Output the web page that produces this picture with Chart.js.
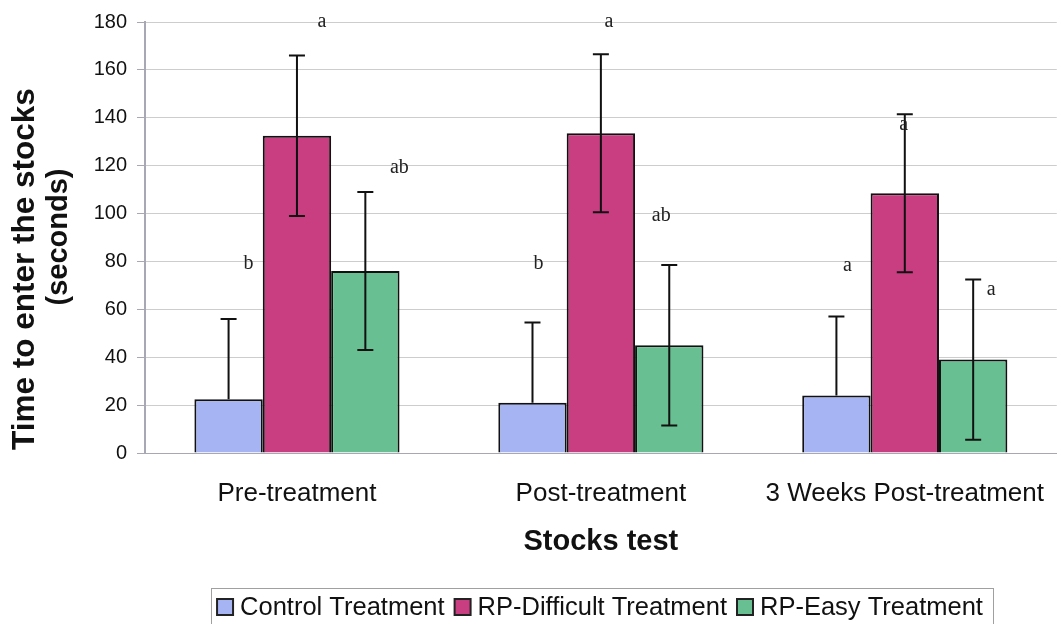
<!DOCTYPE html>
<html>
<head>
<meta charset="utf-8">
<script src="https://cdn.jsdelivr.net/npm/chart.js@4"></script>
<style>
  html, body { margin: 0; padding: 0; background: #fff; }
  #wrap { width: 1061px; height: 624px; }
</style>
</head>
<body>
<div id="wrap"><canvas id="stocksChart" width="1061" height="624"></canvas></div>
<script>
var categories = ['Pre-treatment', 'Post-treatment', '3 Weeks Post-treatment'];
var seriesNames = ['Control Treatment', 'RP-Difficult Treatment', 'RP-Easy Treatment'];

var controlMeans = [22.5, 21, 24];
var difficultMeans = [132.5, 133.5, 108.5];
var easyMeans = [76, 45, 39];

var controlSD = [33.5, 33.5, 33];
var difficultSD = [33.5, 33, 33];
var easySD = [33, 33.5, 33.5];

// significance letters and the value they sit at
var controlLetters = ['b', 'b', 'a'];
var difficultLetters = ['a', 'a', 'a'];
var easyLetters = ['ab', 'ab', 'a'];
var controlLetterAt = [79, 79, 78];
var difficultLetterAt = [180, 180, 137];
var easyLetterAt = [119, 99, 68];

var yTicks = [0, 20, 40, 60, 80, 100, 120, 140, 160, 180];
var yTitle = ['Time to enter the stocks', '(seconds)'];

var sans = '"Liberation Sans", Arial, sans-serif';

// small sideways nudges (px) for letters, per series / category
var letterNudge = [[20, 6, 11], [25, 8, -1], [34, -8, 18]];

var errorBars = {
  id: 'errorBars',
  afterDatasetsDraw: function(chart) {
    var ctx = chart.ctx, y = chart.scales.y;
    var sds = [controlSD, difficultSD, easySD];
    ctx.save();
    ctx.strokeStyle = '#111';
    ctx.lineWidth = 2;
    chart.data.datasets.forEach(function(ds, i) {
      var meta = chart.getDatasetMeta(i);
      meta.data.forEach(function(bar, j) {
        var v = ds.data[j], e = sds[i][j];
        var top = y.getPixelForValue(v + e);
        // control bars only show the upper half
        var bot = i === 0 ? y.getPixelForValue(v) : y.getPixelForValue(v - e);
        ctx.beginPath();
        ctx.moveTo(bar.x, top); ctx.lineTo(bar.x, bot);
        ctx.moveTo(bar.x - 8, top); ctx.lineTo(bar.x + 8, top);
        if (i !== 0) { ctx.moveTo(bar.x - 8, bot); ctx.lineTo(bar.x + 8, bot); }
        ctx.stroke();
      });
    });
    ctx.restore();
  }
};

var extras = {
  id: 'extras',
  afterDraw: function(chart) {
    var ctx = chart.ctx, y = chart.scales.y;
    var letters = [controlLetters, difficultLetters, easyLetters];
    var at = [controlLetterAt, difficultLetterAt, easyLetterAt];
    ctx.save();
    ctx.fillStyle = '#222';
    ctx.font = '20px "Liberation Serif", "Times New Roman", serif';
    ctx.textAlign = 'center';
    ctx.textBaseline = 'middle';
    letters.forEach(function(list, i) {
      var meta = chart.getDatasetMeta(i);
      list.forEach(function(t, j) {
        ctx.fillText(t, meta.data[j].x + letterNudge[i][j], y.getPixelForValue(at[i][j]));
      });
    });

    // y axis title, two rotated lines
    ctx.fillStyle = '#111';
    ctx.save();
    ctx.font = 'bold 31.5px ' + sans;
    ctx.translate(25, 269);
    ctx.rotate(-Math.PI / 2);
    ctx.fillText(yTitle[0], 0, 0);
    ctx.restore();
    ctx.save();
    ctx.font = 'bold 29px ' + sans;
    ctx.translate(59, 237);
    ctx.rotate(-Math.PI / 2);
    ctx.fillText(yTitle[1], 0, 0);
    ctx.restore();

    // legend with a frame
    ctx.font = '25.5px ' + sans;
    ctx.textAlign = 'left';
    var box = 16, gap = 7, sep = 10;
    var widths = seriesNames.map(function(n) { return ctx.measureText(n).width; });
    var total = widths.reduce(function(a, b) { return a + b; }, 0) + seriesNames.length * (box + gap) + (seriesNames.length - 1) * sep;
    var x = 600 - total / 2, cy = 607;
    ctx.strokeStyle = '#a0a0a0';
    ctx.lineWidth = 1;
    ctx.strokeRect(Math.round(x - 6) + 0.5, 588.5, Math.round(total + 16), 40);
    chart.data.datasets.forEach(function(ds, i) {
      ctx.fillStyle = ds.backgroundColor;
      ctx.fillRect(x, cy - box / 2, box, box);
      ctx.strokeStyle = '#222';
      ctx.lineWidth = 2;
      ctx.strokeRect(x, cy - box / 2, box, box);
      ctx.fillStyle = '#111';
      ctx.fillText(seriesNames[i], x + box + gap, cy + 1);
      x += box + gap + widths[i] + sep;
    });
    ctx.restore();
  }
};

new Chart(document.getElementById('stocksChart'), {
  type: 'bar',
  data: {
    labels: categories,
    datasets: [
      { label: seriesNames[0], data: controlMeans, backgroundColor: 'rgb(166,180,244)' },
      { label: seriesNames[1], data: difficultMeans, backgroundColor: 'rgb(200,62,128)' },
      { label: seriesNames[2], data: easyMeans, backgroundColor: 'rgb(104,192,146)' }
    ].map(function(d) {
      d.borderColor = '#111';
      d.borderWidth = 2;
      d.categoryPercentage = 0.675;
      d.barPercentage = 1;
      return d;
    })
  },
  options: {
    responsive: false,
    animation: false,
    layout: { padding: { top: 22, right: 0, left: 0, bottom: 0 } },
    plugins: {
      tooltip: { enabled: false },
      legend: { display: false }
    },
    scales: {
      x: {
        grid: { display: false },
        border: { display: true, color: '#a8a8b4', width: 1 },
        ticks: { color: '#111', font: { family: sans, size: 26 }, padding: 17 },
        title: {
          display: true,
          text: 'Stocks test',
          color: '#111',
          font: { family: sans, size: 29, weight: 'bold' },
          padding: { top: 10, bottom: 65 }
        },
        afterFit: function(s) { s.height = 171; }
      },
      y: {
        min: 0,
        max: 180,
        afterBuildTicks: function(s) { s.ticks = yTicks.map(function(v) { return { value: v }; }); },
        grid: { color: '#cdcdcd', lineWidth: 1, tickLength: 8, tickColor: '#a8a8b4' },
        border: { display: true, color: '#a8a8b4', width: 2 },
        ticks: { color: '#111', font: { family: sans, size: 20 }, padding: 10 },
        afterFit: function(s) { s.width = 145; }
      }
    }
  },
  plugins: [errorBars, extras]
});
</script>
</body>
</html>
